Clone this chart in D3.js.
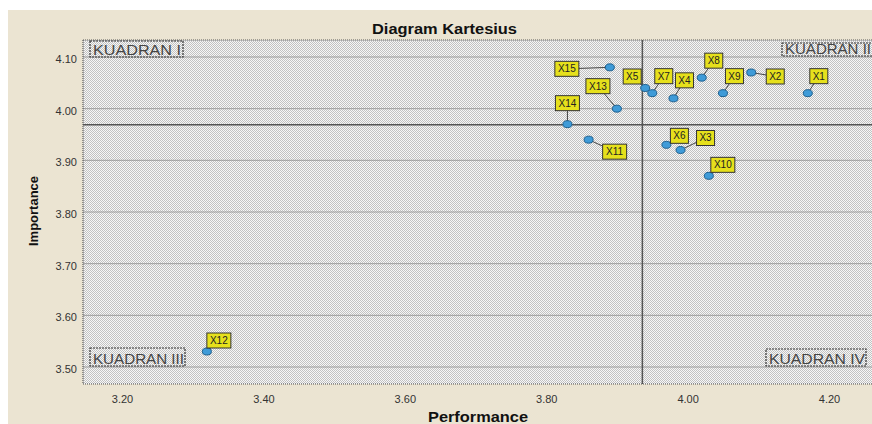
<!DOCTYPE html>
<html><head><meta charset="utf-8">
<script src="https://cdn.jsdelivr.net/npm/d3@7"></script>
<style>
html,body{margin:0;padding:0;background:#fff;}
svg{display:block;}
text{font-family:Arial,"Liberation Sans",sans-serif;}
</style></head>
<body>
<svg id="chart" width="872" height="424"></svg>
<script>
// ---- data ----
const labels = ["X1","X2","X3","X4","X5","X6","X7","X8","X9","X10","X11","X12","X13","X14","X15"];
const performance = [4.17,4.09,3.99,3.98,3.94,3.97,3.95,4.02,4.05,4.03,3.86,3.32,3.90,3.83,3.89];
const importance  = [4.03,4.07,3.92,4.02,4.04,3.93,4.03,4.06,4.03,3.87,3.94,3.53,4.00,3.97,4.08];
const meanPerformance = 3.936;
const meanImportance = 3.969;
const xTicks = [3.20,3.40,3.60,3.80,4.00,4.20];
const yTicks = [3.50,3.60,3.70,3.80,3.90,4.00,4.10];
const quadrantNames = ["KUADRAN I","KUADRAN II","KUADRAN III","KUADRAN IV"];
// label placement (pixel offsets of label box centre from the point)
const labelOffsets = [[11,-17],[24,4],[25,-12],[11,-18],[-13,-11.5],[13,-9],[11.5,-17],[12,-17],[11.5,-17],[14,-11],[26,12],[12,-11],[-19,-22.5],[0,-21],[-43,1.5]];

const svg = d3.select("#chart");
const L = 83, R = 872, T = 40, B = 384;

// background
svg.append("rect").attr("x",0).attr("y",0).attr("width",872).attr("height",424).attr("fill","#fff");
svg.append("rect").attr("x",8).attr("y",10).attr("width",864).attr("height",414).attr("fill","#ebe4d2");

const defs = svg.append("defs");
const pat = defs.append("pattern").attr("id","dots").attr("patternUnits","userSpaceOnUse").attr("width",2).attr("height",2);
pat.append("rect").attr("width",2).attr("height",2).attr("fill","#f7f7f7");
pat.append("rect").attr("x",0).attr("y",0).attr("width",1).attr("height",1).attr("fill","#c2c2c2");
pat.append("rect").attr("x",1).attr("y",1).attr("width",1).attr("height",1).attr("fill","#c2c2c2");

const x = d3.scaleLinear().domain([3.1448,4.2608]).range([L,R]);
const y = d3.scaleLinear().domain([3.4671,4.1329]).range([B,T]);

svg.append("rect").attr("x",L).attr("y",T).attr("width",R-L).attr("height",B-T).attr("fill","url(#dots)");

// grid lines
svg.append("g").selectAll("line").data(yTicks).join("line")
  .attr("x1",L).attr("x2",R).attr("y1",d=>y(d)).attr("y2",d=>y(d))
  .attr("stroke","#8f8f8f").attr("stroke-width",1).attr("opacity",0.8);

// border
svg.append("path").attr("d",`M${L},${T}H${R}M${L},${T}V${B}H${R}`)
  .attr("fill","none").attr("stroke","#555").attr("stroke-width",1.2).attr("stroke-dasharray","1,1");

// mean lines
svg.append("line").attr("x1",x(meanPerformance)).attr("x2",x(meanPerformance)).attr("y1",T).attr("y2",B)
  .attr("stroke","#555").attr("stroke-width",1.5);
svg.append("line").attr("x1",L).attr("x2",R).attr("y1",y(meanImportance)).attr("y2",y(meanImportance))
  .attr("stroke","#555").attr("stroke-width",1.5);

// axes
const xAxis = svg.append("g").attr("transform",`translate(0,${B})`)
  .call(d3.axisBottom(x).tickValues(xTicks).tickFormat(d3.format(".2f")).tickSize(0).tickPadding(11));
xAxis.select(".domain").remove();
xAxis.selectAll("text").attr("font-size",11).attr("fill","#333").attr("font-family","Arial, Liberation Sans, sans-serif");
const yAxis = svg.append("g").attr("transform",`translate(${L},0)`)
  .call(d3.axisLeft(y).tickValues(yTicks).tickFormat(d3.format(".2f")).tickSize(0).tickPadding(6));
yAxis.select(".domain").remove();
yAxis.selectAll("text").attr("font-size",11).attr("fill","#333").attr("dy","0.5em").attr("font-family","Arial, Liberation Sans, sans-serif");

// titles
svg.append("text").attr("x",444.5).attr("y",34).attr("text-anchor","middle")
  .attr("font-size",14).attr("font-weight","bold").attr("fill","#111")
  .attr("textLength",145).attr("lengthAdjust","spacingAndGlyphs").text("Diagram Kartesius");
svg.append("text").attr("x",478).attr("y",422).attr("text-anchor","middle")
  .attr("font-size",14).attr("font-weight","bold").attr("fill","#111")
  .attr("textLength",100).attr("lengthAdjust","spacingAndGlyphs").text("Performance");
svg.append("text").attr("transform","translate(38,211) rotate(-90)").attr("text-anchor","middle")
  .attr("font-size",13).attr("font-weight","bold").attr("fill","#111").text("Importance");

// quadrant labels
const qBoxes = [
  {x:L+7, y:T+1, w:93, h:16, tl:88},
  {x:782, y:T+3, w:100, h:13, tl:86},
  {x:L+7, y:B-36, w:95, h:18, tl:91},
  {x:766, y:B-35, w:100, h:17, tl:96}
];
const qg = svg.append("g");
quadrantNames.forEach((name,i)=>{
  const b = qBoxes[i];
  qg.append("rect").attr("x",b.x).attr("y",b.y).attr("width",b.w).attr("height",b.h)
    .attr("fill","none").attr("stroke","#333").attr("stroke-width",1.2).attr("stroke-dasharray","2,1");
  qg.append("text").attr("x",b.x+3).attr("y",b.y+b.h-2.5).attr("font-size",14).attr("fill","#444")
    .attr("textLength", b.tl).attr("lengthAdjust","spacingAndGlyphs").text(name);
});

// points + labels
const data = labels.map((l,i)=>({label:l, px:performance[i], py:importance[i], off:labelOffsets[i]}));
const lg = svg.append("g");
data.forEach(d=>{
  const cx = x(d.px), cy = y(d.py);
  const lx = cx + d.off[0], ly = cy + d.off[1];
  lg.append("line").attr("x1",cx).attr("y1",cy).attr("x2",lx).attr("y2",ly).attr("stroke","#444").attr("stroke-width",1);
});
data.forEach(d=>{
  const cx = x(d.px), cy = y(d.py);
  lg.append("ellipse").attr("cx",cx).attr("cy",cy).attr("rx",4.5).attr("ry",3.5)
    .attr("fill","#3f9bd8").attr("stroke","#1d5f8e").attr("stroke-width",1);
});
data.forEach(d=>{
  const cx = x(d.px), cy = y(d.py);
  const lx = cx + d.off[0], ly = cy + d.off[1];
  const w = d.label.length===2 ? 18 : 24, h = 15;
  lg.append("rect").attr("x",lx-w/2).attr("y",ly-h/2).attr("width",w).attr("height",h)
    .attr("fill","#e6e01c").attr("stroke","#333").attr("stroke-width",1);
  lg.append("text").attr("x",lx).attr("y",ly+3.5).attr("text-anchor","middle").attr("font-size",10)
    .attr("fill","#222").text(d.label);
});
</script>
</body></html>
